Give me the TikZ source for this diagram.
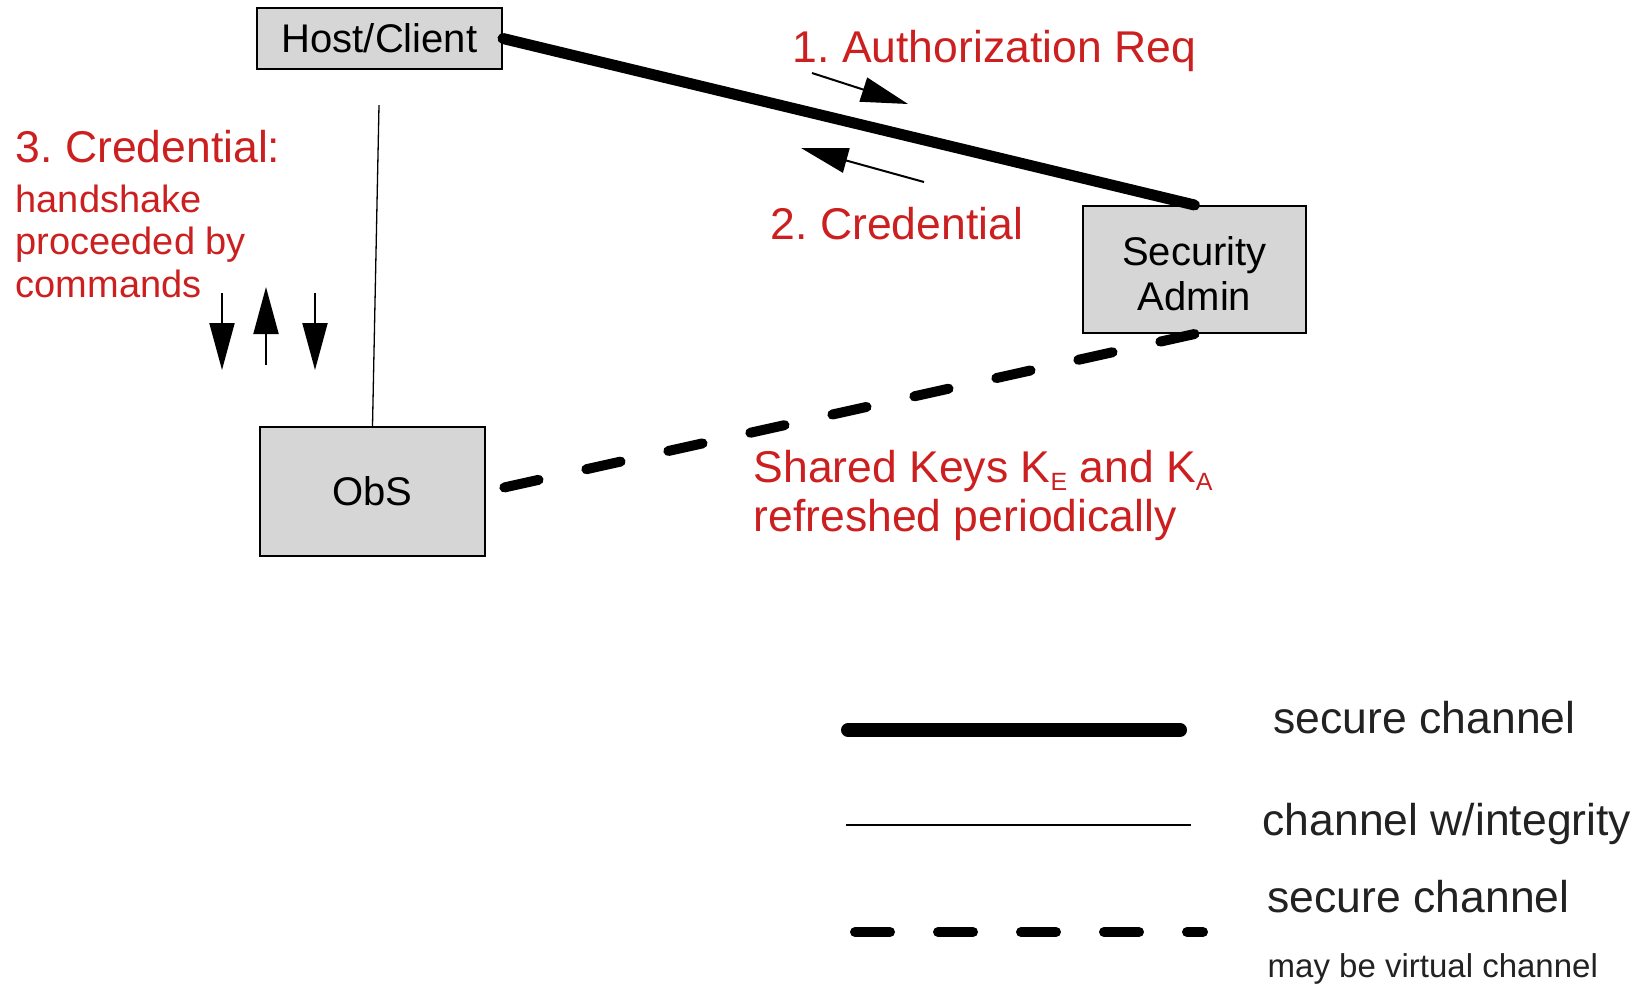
\documentclass[tikz,border=0pt]{standalone}
\usepackage{fontspec}
\setmainfont{Liberation Sans}
\frenchspacing
\usetikzlibrary{arrows.meta}
\definecolor{MsgClr}{RGB}{204,32,32}
\definecolor{BoxClr}{RGB}{214,214,214}
\definecolor{KeyClr}{RGB}{34,34,34}

\begin{document}
\begin{tikzpicture}[x=0.1mm,y=-0.1mm,
  party/.style={draw=black,line width=0.2mm,fill=BoxClr,inner sep=0pt,align=center,
    font=\fontsize{11.38}{12.8}\selectfont},
  redtxt/.style={text=MsgClr,inner sep=0pt,anchor=base west,align=left,
    font=\fontsize{12.66}{13.94}\selectfont},
  keytxt/.style={text=KeyClr,inner sep=0pt,anchor=base west,
    font=\fontsize{12.66}{14}\selectfont},
  secline/.style={line width=1.1mm,line cap=round},
  integline/.style={line width=0.13mm},
  virtline/.style={line width=1mm,line cap=round,dash pattern=on 3.5mm off 4.9mm},
  msgarrow/.style={line width=0.2mm,-{Triangle[length=4.7mm,width=2.5mm]}}]

\useasboundingbox (0,0) rectangle (1636,988);

\node[party,minimum width=24.5mm,minimum height=6.1mm] (host) at (379.5,38.5) {Host/Client};
\node[party,minimum width=22.3mm,minimum height=12.7mm] (sec) at (1194.5,269.5) {\rule{0pt}{3.8mm}Security\\Admin};
\node[party,minimum width=22.5mm,minimum height=12.9mm] (obs) at (372.5,491.5) {ObS};

\coordinate (integtop) at (379,105);

\draw[secline] (host.east) -- (sec.north);
\draw[integline] (integtop) -- (obs.north);
\draw[virtline] (sec.south) -- (obs.east);

\coordinate (reqs) at (812,73);
\coordinate (reqe) at (908,104);
\coordinate (creds) at (924,182);
\coordinate (crede) at (801,148);
\draw[msgarrow] (reqs) -- (reqe);
\draw[msgarrow] (creds) -- (crede);

\coordinate (dnas) at (222,293);
\coordinate (dnae) at (222,370);
\coordinate (ups) at (266,365);
\coordinate (upe) at (266,287);
\coordinate (dnbs) at (315,293);
\coordinate (dnbe) at (315,370);
\draw[msgarrow] (dnas) -- (dnae);
\draw[msgarrow] (ups) -- (upe);
\draw[msgarrow] (dnbs) -- (dnbe);

\node[redtxt] (authreq) at (792,62) {1. Authorization Req};
\node[redtxt] (cred) at (770,239) {2. Credential};
\node[redtxt] (cmdcred) at (15,162) {3. Credential:};
\node[redtxt,font=\fontsize{10.81}{12.09}\selectfont] (handshake) at (15,297) {handshake\\proceeded by\\commands};
\node[redtxt] (keys) at (753,531) {Shared Keys K\raisebox{-0.8mm}{\fontsize{7.11}{8}\selectfont E} and K\raisebox{-0.8mm}{\fontsize{7.11}{8}\selectfont A}\\refreshed periodically};

\coordinate (seckeys) at (848,730);
\coordinate (seckeye) at (1180,730);
\coordinate (integkeys) at (846,825);
\coordinate (integkeye) at (1191,825);
\coordinate (virtkeys) at (855,932);
\coordinate (virtkeye) at (1203,932);
\draw[secline,line width=1.4mm] (seckeys) -- (seckeye);
\draw[integline] (integkeys) -- (integkeye);
\draw[virtline,dash pattern=on 3.5mm off 4.8mm] (virtkeys) -- (virtkeye);

\node[keytxt] (seckey) at (1273,733) {secure channel};
\node[keytxt] (integkey) at (1262,835) {channel w/integrity};
\node[keytxt] (virtkey) at (1267,912) {secure channel};
\node[keytxt,font=\fontsize{9.39}{10}\selectfont] (virtnote) at (1267,977) {may be virtual channel};

\end{tikzpicture}
\end{document}
